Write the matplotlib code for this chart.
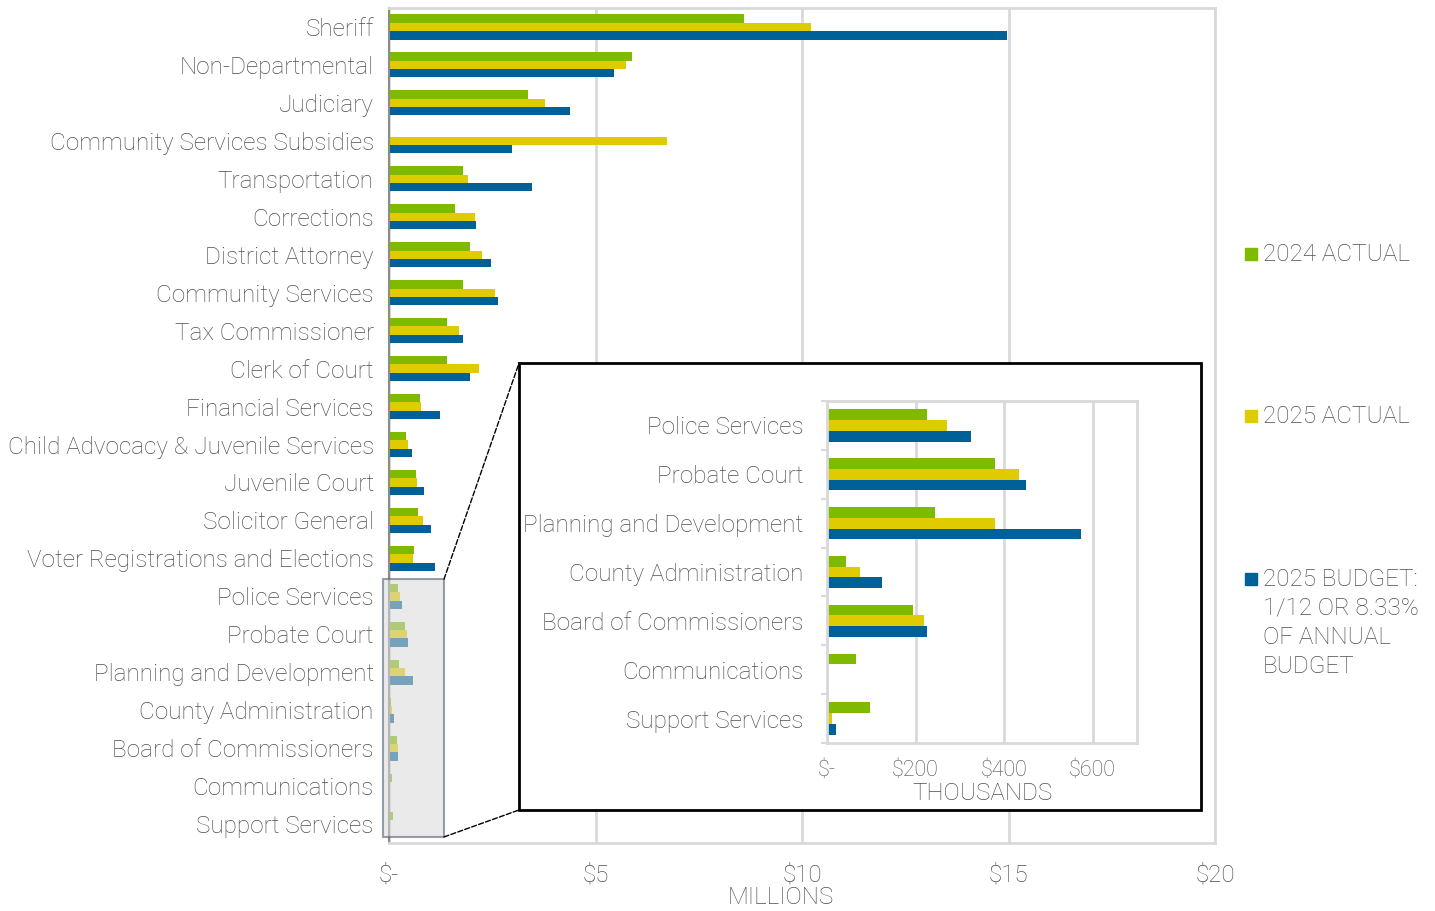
import numpy as np
import matplotlib.pyplot as plt
from matplotlib.patches import Rectangle, ConnectionPatch

plt.rcParams['font.family'] = ['Roboto', 'DejaVu Sans']
plt.rcParams['font.weight'] = 'light'
plt.rcParams['axes.labelweight'] = 'light'

TEXT = '#4f4f4f'
GRID = '#d9d9d9'
FS = 17.5
colors = ['#7fba00', '#e0cb00', '#006199']
series = ['2024 ACTUAL', '2025 ACTUAL', '2025 BUDGET:\n1/12 OR 8.33%\nOF ANNUAL\nBUDGET']

# departments, in millions
departments = ['Sheriff', 'Non-Departmental', 'Judiciary', 'Community Services Subsidies',
               'Transportation', 'Corrections', 'District Attorney', 'Community Services',
               'Tax Commissioner', 'Clerk of Court', 'Financial Services',
               'Child Advocacy & Juvenile Services', 'Juvenile Court', 'Solicitor General',
               'Voter Registrations and Elections', 'Police Services', 'Probate Court',
               'Planning and Development', 'County Administration', 'Board of Commissioners',
               'Communications', 'Support Services']
actual_2024 = [8.60, 5.88, 3.37, 0.02, 1.78, 1.59, 1.97, 1.78, 1.40, 1.41, 0.75, 0.40,
               0.65, 0.69, 0.61, 0.226, 0.380, 0.243, 0.042, 0.195, 0.065, 0.097]
actual_2025 = [10.22, 5.74, 3.77, 6.72, 1.92, 2.07, 2.24, 2.57, 1.69, 2.18, 0.77, 0.46,
               0.67, 0.83, 0.59, 0.271, 0.434, 0.380, 0.075, 0.218, 0.0, 0.012]
budget_2025 = [14.96, 5.45, 4.39, 2.97, 3.45, 2.11, 2.47, 2.65, 1.78, 1.96, 1.24, 0.55,
               0.84, 1.01, 1.11, 0.325, 0.449, 0.573, 0.124, 0.225, 0.0, 0.020]

# smaller departments shown again in thousands
n_small = 7
small_departments = departments[-n_small:]

values = [actual_2024, actual_2025, budget_2025]

fig = plt.figure(figsize=(14.35, 9.11), dpi=100)
ax = fig.add_axes([0.2711, 0.0746, 0.5756, 0.9166])

h = 0.22
y = np.arange(len(departments))
for i, (vals, c) in enumerate(zip(values, colors)):
    ax.barh(y + (i - 1) * h, vals, height=h, color=c, zorder=2)

ax.set_xlim(0, 20)
ax.set_ylim(len(departments) - 0.5, -0.5)
ax.set_yticks(y)
ax.set_yticklabels(departments, fontsize=FS, color=TEXT)
ax.set_xticks([0, 5, 10, 15, 20])
ax.set_xticklabels(['$-', '$5', '$10', '$15', '$20'], fontsize=FS, color=TEXT)
ax.tick_params(axis='y', length=0, pad=11)
ax.tick_params(axis='x', length=0, pad=15)
ax.grid(axis='x', color=GRID, lw=2, zorder=0)
ax.set_axisbelow(True)
for s in ['top', 'right', 'bottom']:
    ax.spines[s].set_color(GRID)
    ax.spines[s].set_linewidth(2)
ax.spines['left'].set_color('#8c8c8c')
ax.spines['left'].set_linewidth(1.5)
ax.set_xlabel('MILLIONS', fontsize=FS, color=TEXT)
ax.xaxis.set_label_coords(0.4746, -0.052)

# highlight of the small departments
y_top = len(departments) - n_small - 0.45
y_bot = len(departments) - 0.66
shade = Rectangle((-0.15, y_top), 1.48, y_bot - y_top, facecolor='#d9d9d9', alpha=0.55,
                  edgecolor='#44546a', lw=1.5, zorder=3, clip_on=False)
ax.add_patch(shade)

# inset box
bx0, by0, bx1, by1 = 0.3617, 0.1109, 0.8369, 0.6015
fig.patches.append(Rectangle((bx0, by0), bx1 - bx0, by1 - by0, transform=fig.transFigure,
                             facecolor='white', edgecolor='black', lw=2, zorder=5))
for ya, yb in [(y_top, by1), (y_bot, by0)]:
    con = ConnectionPatch(xyA=(1.33, ya), coordsA='data', axesA=ax,
                          xyB=(bx0, yb), coordsB='figure fraction',
                          linestyle='--', color='black', lw=1)
    fig.add_artist(con)

axi = fig.add_axes([0.5763, 0.1844, 0.2160, 0.3754], zorder=6)
ys = np.arange(n_small)
for i, (vals, c) in enumerate(zip(values, colors)):
    small = np.array(vals[-n_small:]) * 1000
    axi.barh(ys + (i - 1) * h, small, height=h, color=c, zorder=2)
axi.set_xlim(0, 700)
axi.set_ylim(n_small - 0.5, -0.5)
axi.set_yticks(ys)
axi.set_yticklabels(small_departments, fontsize=FS, color=TEXT)
axi.set_yticks(np.arange(n_small + 1) - 0.5, minor=True)
axi.tick_params(axis='y', which='major', length=0, pad=17)
axi.tick_params(axis='y', which='minor', length=4, color=GRID, width=1.5)
axi.set_xticks([0, 200, 400, 600])
axi.set_xticklabels(['$-', '$200', '$400', '$600'], fontsize=15.5, color=TEXT)
axi.tick_params(axis='x', length=0, pad=12)
axi.grid(axis='x', color=GRID, lw=2, zorder=0)
axi.set_axisbelow(True)
for s in axi.spines.values():
    s.set_color(GRID)
    s.set_linewidth(2)
axi.set_xlabel('THOUSANDS', fontsize=FS, color=TEXT)
axi.xaxis.set_label_coords(0.503, -0.113)

# legend
legend_y = [254, 416, 579]
for name, c, ly in zip(series, colors, legend_y):
    yf = 1 - ly / 911
    fig.patches.append(Rectangle((1245 / 1435, yf - 6 / 911), 12 / 1435, 12 / 911,
                                 transform=fig.transFigure, color=c))
    fig.text(1263 / 1435, yf + 11 / 911, name, fontsize=FS, color=TEXT, va='top',
             ha='left', linespacing=1.33)

fig.savefig('out.png', dpi=100)
